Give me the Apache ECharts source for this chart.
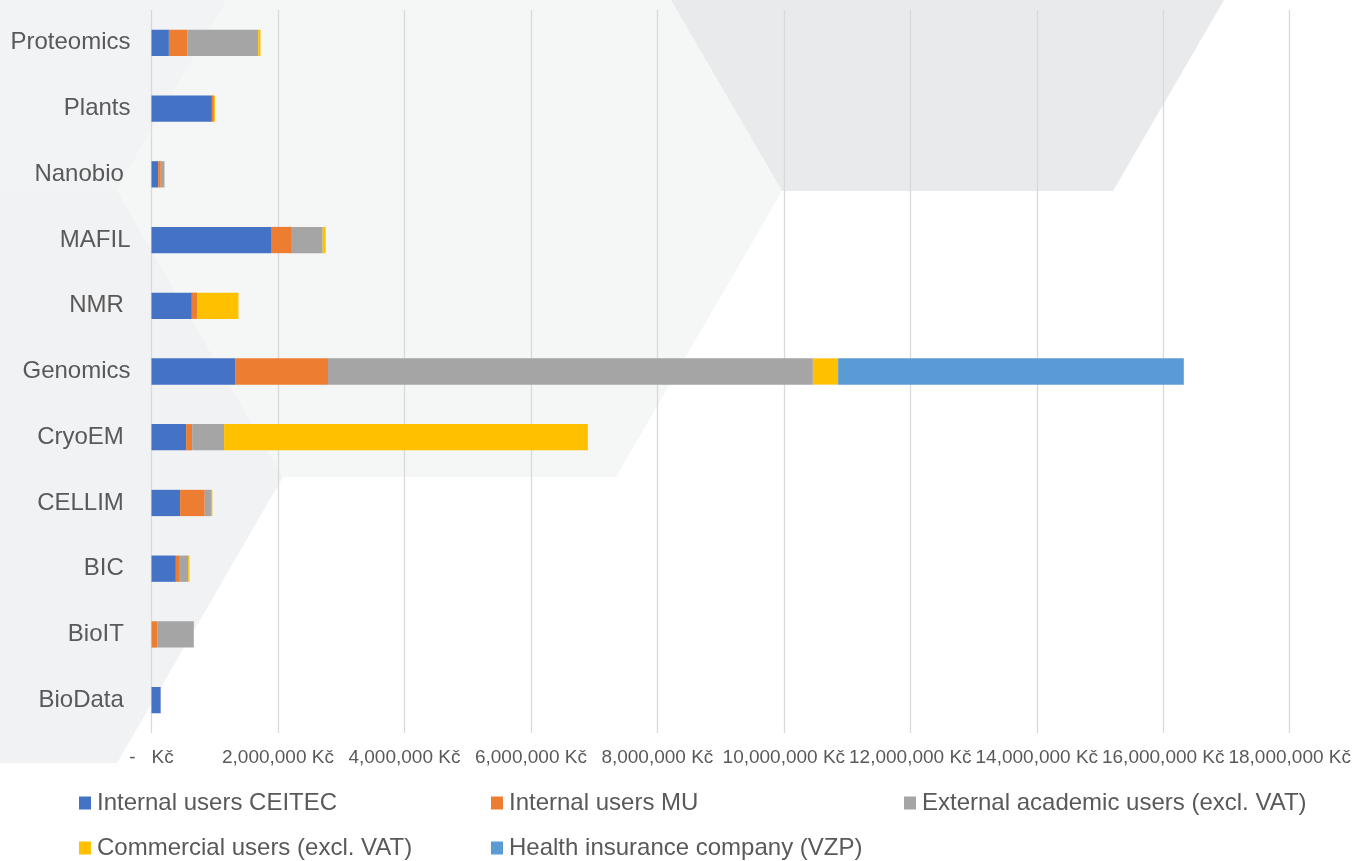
<!DOCTYPE html>
<html>
<head>
<meta charset="utf-8">
<title>Revenue by core facility</title>
<script src="https://cdn.jsdelivr.net/npm/echarts@6/dist/echarts.min.js"></script>
<style>
  html, body { margin: 0; padding: 0; background: #ffffff; }
  #chart { width: 1354px; height: 861px; }
</style>
</head>
<body>
<div id="chart"></div>
<script>
// categories, bottom to top (category axis starts at the bottom)
var facilities = ["BioData ", "BioIT ", "BIC ", "CELLIM ", "CryoEM ", "Genomics", "NMR ", "MAFIL", "Nanobio ", "Plants", "Proteomics"];

var seriesNames = [
  "Internal users CEITEC",
  "Internal users MU",
  "External academic users (excl. VAT)",
  "Commercial users (excl. VAT)",
  "Health insurance company (VZP)"
];

// values in Kč
var internalCeitec = [145000, 0, 385000, 452000, 548000, 1322000, 638000, 1890000, 105000, 955000, 275000];
var internalMu = [0, 90000, 63000, 390000, 95000, 1469000, 84000, 316000, 42000, 32000, 290000];
var externalAcademic = [0, 579000, 132000, 110000, 505000, 7668000, 0, 500000, 58000, 0, 1122000];
var commercial = [0, 0, 21000, 10000, 5753000, 400000, 653000, 47000, 0, 16000, 37000];
var healthInsurance = [0, 0, 0, 0, 0, 5466000, 0, 0, 0, 0, 0];

var xTicks = { min: 0, max: 18000000, interval: 2000000 };

var colors = ["#4472C4", "#ED7D31", "#A5A5A5", "#FFC000", "#5B9BD5"];
var seriesData = [internalCeitec, internalMu, externalAcademic, commercial, healthInsurance];

var chart = echarts.init(document.getElementById("chart"));

function kc(v) {
  if (v === 0) return "-   Kč";
  return v.toLocaleString("en-US") + " Kč";
}

// legend slots (one legend per item so the columns line up like the original)
var legendSlots = [
  { left: 79, top: 791 },
  { left: 491, top: 791 },
  { left: 904, top: 791 },
  { left: 79, top: 836 },
  { left: 491, top: 836 }
];

var option = {
  backgroundColor: "#ffffff",
  animation: false,
  color: colors,
  // decorative hexagon shapes behind the plot
  graphic: [
    {
      type: "polygon", z: -100, silent: true,
      shape: { points: [[0, 0], [227, 0], [117, 190], [0, 190]] },
      style: { fill: "#f2f3f5" }
    },
    {
      type: "polygon", z: -100, silent: true,
      shape: { points: [[0, 190], [117, 190], [283, 477], [117, 763], [0, 763]] },
      style: { fill: "#f1f2f4" }
    },
    {
      type: "polygon", z: -100, silent: true,
      shape: { points: [[117, 190], [227, 0], [671, 0], [782, 191], [616, 477], [283, 477]] },
      style: { fill: "#f5f6f6" }
    },
    {
      type: "polygon", z: -100, silent: true,
      shape: { points: [[671, 0], [1224, 0], [1113, 191], [782, 191]] },
      style: { fill: "#e9eaeb" }
    }
  ],
  grid: {
    left: 151.5,
    right: 62.5,
    top: 10,
    bottom: 128,
    containLabel: false
  },
  legend: legendSlots.map(function (slot, i) {
    return {
      data: [seriesNames[i]],
      left: slot.left,
      top: slot.top,
      padding: 0,
      icon: "rect",
      itemWidth: 12,
      itemHeight: 13,
      selectedMode: false,
      textStyle: {
        fontFamily: "Liberation Sans, Arial, sans-serif",
        fontSize: 24,
        color: "#595959",
        padding: [0, 0, 0, 1]
      }
    };
  }),
  xAxis: {
    type: "value",
    min: xTicks.min,
    max: xTicks.max,
    interval: xTicks.interval,
    axisLine: { show: false },
    axisTick: { show: false },
    splitLine: { lineStyle: { color: "#d9d9d9", width: 1.3 } },
    axisLabel: {
      formatter: kc,
      fontFamily: "Liberation Sans, Arial, sans-serif",
      fontSize: 19,
      color: "#595959",
      margin: 15
    }
  },
  yAxis: {
    type: "category",
    data: facilities,
    axisLine: { show: false },
    axisTick: { show: false },
    axisLabel: {
      fontFamily: "Liberation Sans, Arial, sans-serif",
      fontSize: 24,
      color: "#595959",
      margin: 21
    }
  },
  series: seriesNames.map(function (name, i) {
    return {
      name: name,
      type: "bar",
      stack: "total",
      barWidth: "40%",
      itemStyle: { color: colors[i] },
      data: seriesData[i]
    };
  })
};

chart.setOption(option);
</script>
</body>
</html>
